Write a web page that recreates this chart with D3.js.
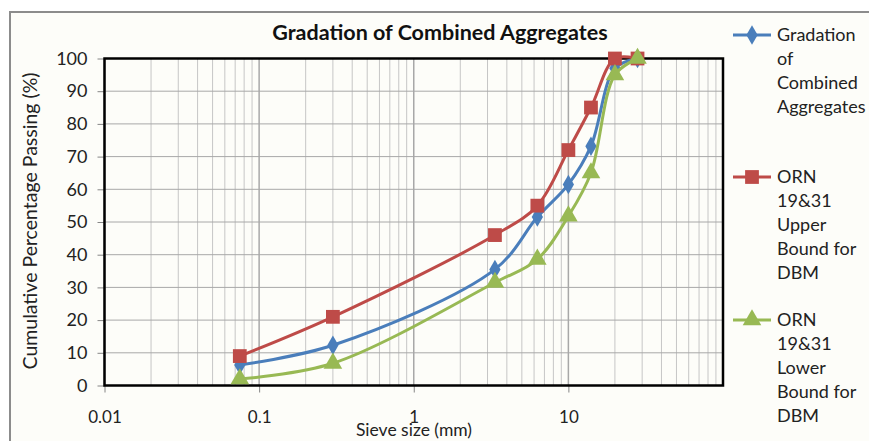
<!DOCTYPE html>
<html>
<head>
<meta charset="utf-8">
<script src="https://cdn.jsdelivr.net/npm/d3@7"></script>
<style>
  body { margin: 0; background: #fff; }
  svg { display: block; font-family: Lato, "Open Sans", sans-serif; }
</style>
</head>
<body>
<svg width="869" height="441"></svg>
<script>
// sieve sizes (mm) and cumulative % passing
var sieves = [0.075, 0.3, 3.35, 6.3, 10, 14, 20, 28];
var combined = [6.3, 12.3, 35.5, 51.5, 61.5, 73.2, 97, 100];
var upper = [9, 21, 46, 55, 72, 85, 100, 100];
var lower = [2, 6.8, 31.5, 38.6, 51.8, 65, 95, 100];

var xTicks = [0.01, 0.1, 1, 10];
var yTicks = [0, 10, 20, 30, 40, 50, 60, 70, 80, 90, 100];

var seriesNames = [
  ["Gradation", "of", "Combined", "Aggregates"],
  ["ORN", "19&31", "Upper", "Bound for", "DBM"],
  ["ORN", "19&31", "Lower", "Bound for", "DBM"]
];
var colors = ["#4a7ebb", "#be4b48", "#98b954"];
var shapes = [d3.symbolDiamond, d3.symbolSquare, d3.symbolTriangle];
var sizes = [110, 190, 150];

var svg = d3.select("svg");

// chart area background & border
svg.append("rect")
    .attr("x", 10).attr("y", 12)
    .attr("width", 880).attr("height", 450)
    .style("fill", "#fdfdf9")
    .style("stroke", "#8c8c8c")
    .style("stroke-width", 2);

var pLeft = 104.5, pRight = 723, pTop = 58.5, pBottom = 385.5;
var x = d3.scaleLog().domain([0.01, 100]).range([pLeft, pRight]);
var y = d3.scaleLinear().domain([0, 100]).range([pBottom, pTop]);

// minor + major vertical grid
var grid = svg.append("g");
var minor = [];
for (var e = -2; e < 2; e++) {
  for (var m = 2; m <= 9; m++) minor.push(m * Math.pow(10, e));
}
grid.selectAll("line.minor").data(minor).enter().append("line")
    .attr("x1", function(d) {return x(d);}).attr("x2", function(d) {return x(d);})
    .attr("y1", pTop).attr("y2", pBottom)
    .style("stroke", "#c6c6c6").style("stroke-width", 1);
grid.selectAll("line.major").data(xTicks).enter().append("line")
    .attr("x1", function(d) {return x(d);}).attr("x2", function(d) {return x(d);})
    .attr("y1", pTop).attr("y2", pBottom)
    .style("stroke", "#a8a8a8").style("stroke-width", 1.5);
grid.selectAll("line.h").data(yTicks).enter().append("line")
    .attr("x1", pLeft).attr("x2", pRight)
    .attr("y1", function(d) {return y(d);}).attr("y2", function(d) {return y(d);})
    .style("stroke", "#a8a8a8").style("stroke-width", 1);

// axes
var yAxis = d3.axisLeft(y).tickValues(yTicks).tickSize(7).tickPadding(10);
var gy = svg.append("g").attr("transform", "translate(" + pLeft + ",0)").call(yAxis);
gy.select(".domain").remove();
gy.selectAll(".tick line").style("stroke", "#868686");
gy.selectAll("text").style("font-size", "18px").style("fill", "#222")
    .style("font-family", "Lato, 'Open Sans', sans-serif");

var xAxis = d3.axisBottom(x).tickValues(xTicks).tickSize(7).tickPadding(18)
    .tickFormat(function(d) {return String(d);});
var gx = svg.append("g").attr("transform", "translate(0," + pBottom + ")").call(xAxis);
gx.select(".domain").remove();
gx.selectAll(".tick line").style("stroke", "#868686");
gx.selectAll("text").style("font-size", "17px").style("fill", "#222")
    .style("font-family", "Lato, 'Open Sans', sans-serif");

// plot border
svg.append("rect")
    .attr("x", pLeft).attr("y", pTop)
    .attr("width", pRight - pLeft).attr("height", pBottom - pTop)
    .style("fill", "none").style("stroke", "#000").style("stroke-width", 2.5);

// series
var allSeries = [combined, upper, lower];
var line = d3.line()
    .x(function(d) {return x(d[0]);})
    .y(function(d) {return y(d[1]);})
    .curve(d3.curveCatmullRom.alpha(0.5));

allSeries.forEach(function(vals, i) {
  var pts = sieves.map(function(s, j) {return [s, vals[j]];});
  var g = svg.append("g");
  g.append("path").datum(pts)
      .attr("d", line)
      .style("fill", "none").style("stroke", colors[i]).style("stroke-width", 3);
  g.selectAll("path.pt").data(pts).enter().append("path")
      .attr("d", d3.symbol().type(shapes[i]).size(sizes[i]))
      .attr("transform", function(d) {return "translate(" + x(d[0]) + "," + y(d[1]) + ")";})
      .style("fill", colors[i]);
});

// title
svg.append("text")
    .attr("x", 440).attr("y", 40)
    .style("text-anchor", "middle")
    .style("font-size", "21.5px").style("font-weight", "bold").style("fill", "#111")
    .text("Gradation of Combined  Aggregates");

// axis titles
svg.append("text")
    .attr("transform", "translate(37,221) rotate(-90)")
    .style("text-anchor", "middle")
    .style("font-size", "19.5px").style("fill", "#222")
    .text("Cumulative Percentage Passing (%)");
svg.append("text")
    .attr("x", 414).attr("y", 436)
    .style("text-anchor", "middle")
    .style("font-size", "17.5px").style("fill", "#222")
    .text("Sieve size (mm)");

// legend
var legendY = [35, 177, 320];
seriesNames.forEach(function(lines, i) {
  var g = svg.append("g").attr("transform", "translate(0," + legendY[i] + ")");
  g.append("line").attr("x1", 733).attr("x2", 771).attr("y1", 0).attr("y2", 0)
      .style("stroke", colors[i]).style("stroke-width", 3);
  g.append("path").attr("d", d3.symbol().type(shapes[i]).size(sizes[i]))
      .attr("transform", "translate(752,0)").style("fill", colors[i]);
  g.selectAll("text").data(lines).enter().append("text")
      .attr("x", 777).attr("y", function(d, j) {return j * 24 + 6;})
      .style("font-size", "18px").style("fill", "#222")
      .text(function(d) {return d;});
});
</script>
</body>
</html>
